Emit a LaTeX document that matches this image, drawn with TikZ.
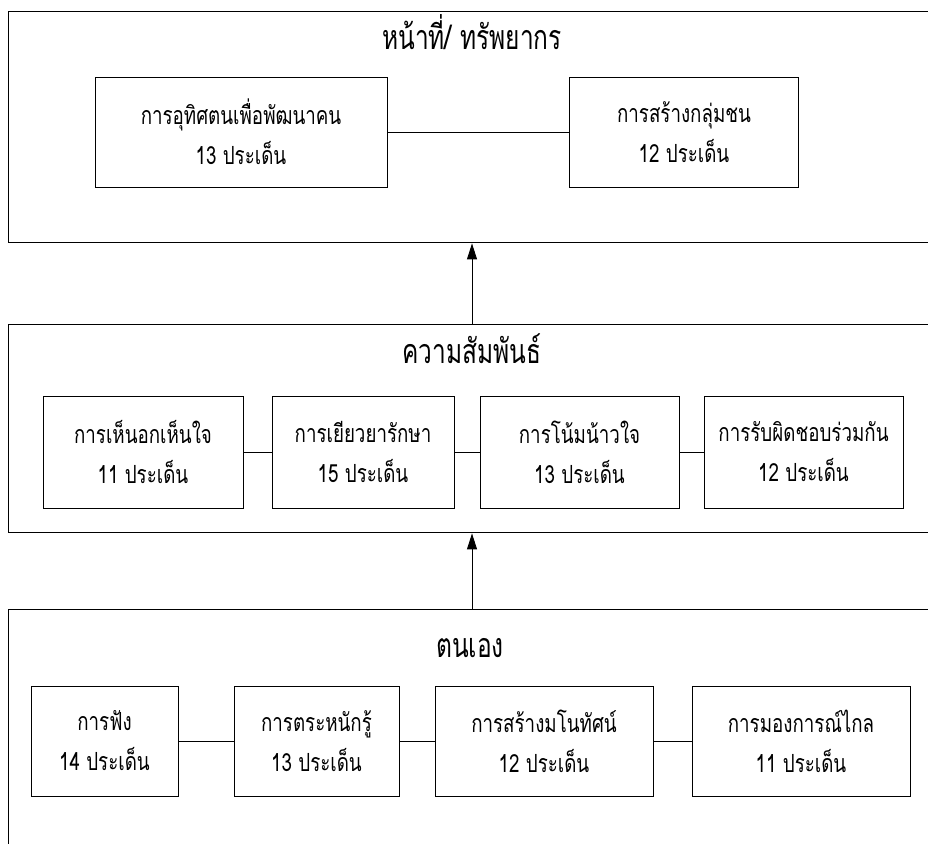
\documentclass[tikz,border=0pt]{standalone}
\usepackage{fontspec}
\newfontfamily\thaifont[Script=Thai,FakeStretch=0.75]{Loma}
\newfontfamily\thaititle[Script=Thai,FakeStretch=0.72]{Loma}
\usetikzlibrary{arrows.meta}
\begin{document}
\begin{tikzpicture}[x=1pt,y=-1pt,
  panel/.style={draw,line width=1.4pt,rectangle,inner sep=0pt,anchor=north west,minimum width=940pt},
  item/.style={draw,line width=0.9pt,rectangle,inner sep=0pt,align=center,
    font={\thaifont\fontsize{25pt}{40pt}\selectfont}},
  ptitle/.style={anchor=base,inner sep=0pt,font={\thaititle\fontsize{34pt}{40pt}\selectfont}},
  link/.style={line width=0.9pt},
  up/.style={line width=0.9pt,-{Triangle[length=16pt,width=10pt]}}
]
\useasboundingbox (0,0) rectangle (928,843);
\fill[white] (0,0) rectangle (928,843);
\clip (0,0) rectangle (928,843);
% panels
\node[panel,minimum height=231pt] (top) at (8,11) {};
\node[panel,minimum height=208pt] (mid) at (8,324) {};
\node[panel,minimum height=260pt] (bot) at (8,609) {};
% titles
\node[ptitle] (t1) at (472,50) {หน้าที่/ ทรัพยากร};
\node[ptitle] (t2) at (472,363) {ความสัมพันธ์};
\node[ptitle] (t3) at (470,657) {ตนเอง};
% top row
\node[item,minimum width=292pt,minimum height=110pt] (a1) at (241,132) {การอุทิศตนเพื่อพัฒนาคน\\13 ประเด็น};
\node[item,minimum width=229pt,minimum height=110pt] (a2) at (684,132) {การสร้างกลุ่มชน\\12 ประเด็น};
% middle row
\node[item,minimum width=200pt,minimum height=112pt] (m1) at (143,452) {การเห็นอกเห็นใจ\\11 ประเด็น};
\node[item,minimum width=182pt,minimum height=112pt] (m2) at (363,452) {การเยียวยารักษา\\15 ประเด็น};
\node[item,minimum width=199pt,minimum height=112pt] (m3) at (579.5,452) {การโน้มน้าวใจ\\13 ประเด็น};
\node[item,minimum width=199pt,minimum height=112pt] (m4) at (803.5,452) {การรับผิดชอบร่วมกัน\\12 ประเด็น};
% bottom row
\node[item,minimum width=147pt,minimum height=110pt] (b1) at (104.5,741) {การฟัง\\14 ประเด็น};
\node[item,minimum width=165pt,minimum height=110pt] (b2) at (316.5,741) {การตระหนักรู้\\13 ประเด็น};
\node[item,minimum width=218pt,minimum height=110pt] (b3) at (544,741) {การสร้างมโนทัศน์\\12 ประเด็น};
\node[item,minimum width=218pt,minimum height=110pt] (b4) at (801,741) {การมองการณ์ไกล\\11 ประเด็น};
% links
\draw[link] (a1) -- (a2);
\draw[link] (m1) -- (m2);
\draw[link] (m2) -- (m3);
\draw[link] (m3) -- (m4);
\draw[link] (b1) -- (b2);
\draw[link] (b2) -- (b3);
\draw[link] (b3) -- (b4);
% arrows
\coordinate (ax) at (472,0);
\draw[up] (mid.north -| ax) -- (top.south -| ax);
\draw[up] (bot.north -| ax) -- (mid.south -| ax);
\end{tikzpicture}
\end{document}
